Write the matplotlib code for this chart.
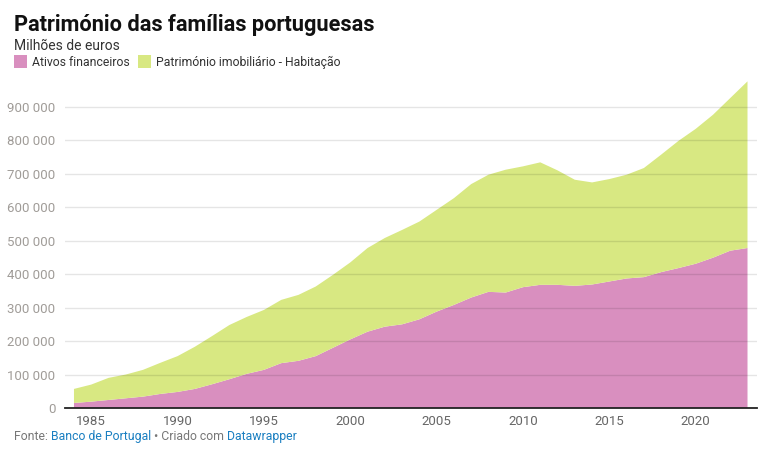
import matplotlib
matplotlib.use("Agg")
import matplotlib.pyplot as plt
from matplotlib.patches import Rectangle

plt.rcParams['font.family'] = ['Roboto', 'DejaVu Sans']

# Data (millions of euros)
years = list(range(1984, 2024))
ativos_financeiros = [
    15000, 19000, 24000, 29000, 34000, 42000, 48000, 57000, 71000, 86000,
    102000, 114000, 134000, 141000, 155000, 180000, 205000, 228000, 243000, 250000,
    265000, 288000, 308000, 330000, 347000, 345000, 361000, 368000, 368000, 365000,
    369000, 378000, 387000, 391000, 406000, 418000, 431000, 449000, 470000, 478000,
]
total = [
    57000, 70000, 90000, 100000, 114000, 135000, 155000, 183000, 215000, 248000,
    272000, 293000, 323000, 338000, 363000, 398000, 435000, 478000, 508000, 532000,
    557000, 592000, 627000, 669000, 697000, 712000, 722000, 734000, 710000, 682000,
    674000, 684000, 697000, 717000, 757000, 798000, 834000, 876000, 926000, 976000,
]
habitacao = [t - a for t, a in zip(total, ativos_financeiros)]

series_names = ["Ativos financeiros", "Património imobiliário - Habitação"]
series_colors = ["#d98fbf", "#d8e882"]
yticks = [0, 100000, 200000, 300000, 400000, 500000, 600000, 700000, 800000, 900000]
xticks = [1985, 1990, 1995, 2000, 2005, 2010, 2015, 2020]

fig = plt.figure(figsize=(7.68, 4.58), dpi=100)
ax = fig.add_axes([65 / 768, 1 - 408 / 458, 692 / 768, 328 / 458])

ax.stackplot(years, ativos_financeiros, habitacao, colors=series_colors,
             linewidth=0, zorder=1)

ax.set_xlim(1983.48, 2023.55)
ax.set_ylim(0, 980000)

ax.set_yticks(yticks)
ax.set_yticklabels([f"{v:,}".replace(",", " ") for v in yticks])
ax.set_xticks(xticks)
ax.set_xticklabels([str(x) for x in xticks])
ax.tick_params(axis='y', length=0, pad=7, labelsize=9.5, labelcolor="#a09c98")
ax.tick_params(axis='x', length=0, pad=5, labelsize=9.5, labelcolor="#666666")

# light gridlines drawn over the areas
for v in yticks[1:]:
    ax.axhline(v, color="black", alpha=0.1, linewidth=1, zorder=2)
for side in ["top", "right", "left"]:
    ax.spines[side].set_visible(False)
ax.spines["bottom"].set_color("#222222")
ax.spines["bottom"].set_linewidth(1.3)
ax.spines["bottom"].set_zorder(5)

# Title, subtitle, legend
fig.text(14 / 768, 1 - 31 / 458, "Património das famílias portuguesas",
         fontsize=15.7, fontweight='bold', color="#111111")
fig.text(14 / 768, 1 - 50 / 458, "Milhões de euros", fontsize=10, color="#333333")

renderer = fig.canvas.get_renderer()
x = 14
for name, color in zip(series_names, series_colors):
    fig.patches.append(Rectangle((x / 768, 1 - 68 / 458), 13 / 768, 13 / 458,
                                 transform=fig.transFigure, facecolor=color,
                                 edgecolor='none'))
    t = fig.text((x + 18) / 768, 1 - 66 / 458, name, fontsize=8.8, color="#333333")
    x = x + 18 + t.get_window_extent(renderer).width + 8

# Footer
x = 14
for part, color in [("Fonte: ", "#777777"), ("Banco de Portugal", "#1a7fc1"),
                    (" • Criado com ", "#777777"), ("Datawrapper", "#1a7fc1")]:
    t = fig.text(x / 768, 1 - 440 / 458, part, fontsize=8.8, color=color)
    x = x + t.get_window_extent(renderer).width

fig.savefig("out.png", dpi=100)
